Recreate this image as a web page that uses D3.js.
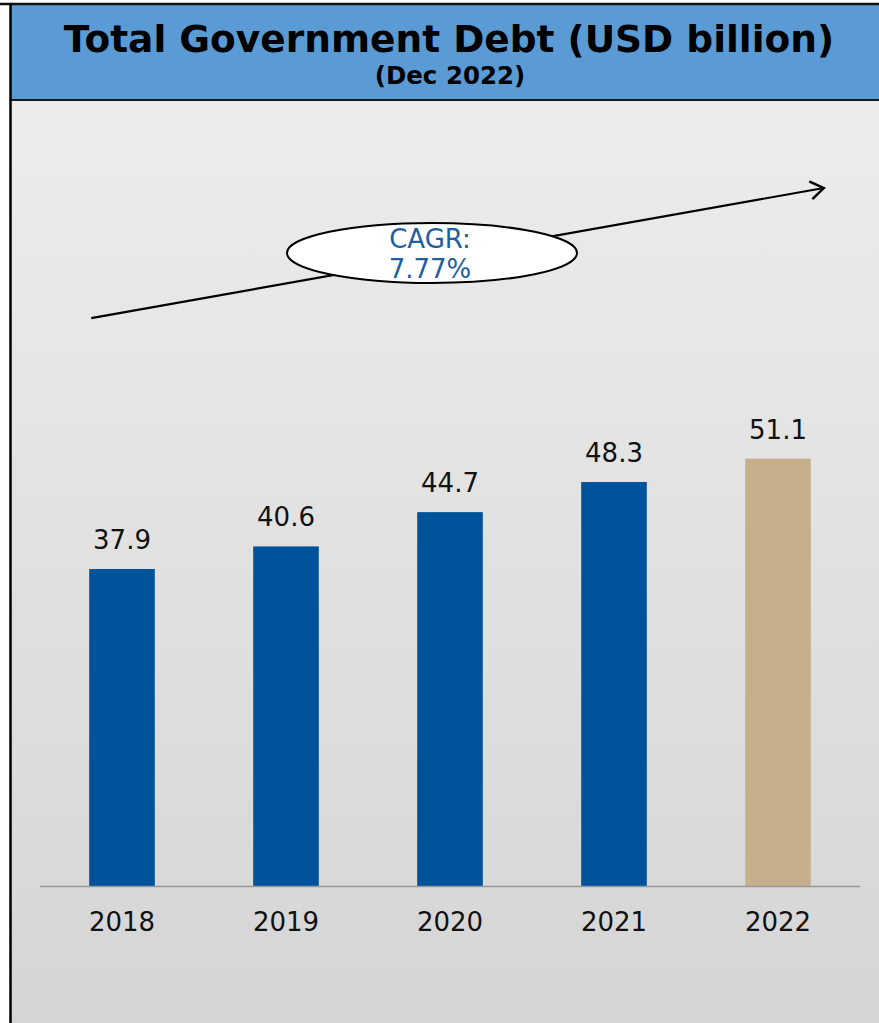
<!DOCTYPE html>
<meta charset="utf-8">
<style>
  body { margin: 0; background: #fff; }
  .title { font: bold 37.5px "DejaVu Sans", Verdana, sans-serif; fill: #000; }
  .subtitle { font: bold 24.5px "DejaVu Sans", Verdana, sans-serif; fill: #000; }
  .val, .tick text { font: 26px "DejaVu Sans", Verdana, sans-serif; fill: #111; }
  .cagr { font: 26px "DejaVu Sans", Verdana, sans-serif; fill: #1f5f9f; }
</style>
<svg width="879" height="1023"></svg>
<script src="https://d3js.org/d3.v7.min.js"></script>
<script>

var years = ["2018", "2019", "2020", "2021", "2022"];
var debt = [37.9, 40.6, 44.7, 48.3, 51.1];
var barColors = ["#00539a", "#00539a", "#00539a", "#00539a", "#c6b08b"];
var cagrLines = ["CAGR:", "7.77%"];

var svg = d3.select("svg"),
    width = +svg.attr("width"),
    height = +svg.attr("height");

// background gradient
var grad = svg.append("defs").append("linearGradient")
    .attr("id", "bg").attr("x1", 0).attr("y1", 0).attr("x2", 0).attr("y2", 1);
grad.append("stop").attr("offset", "0%").attr("stop-color", "#efefef");
grad.append("stop").attr("offset", "100%").attr("stop-color", "#d5d5d5");

svg.append("rect").attr("x", 11).attr("y", 4).attr("width", width).attr("height", height)
    .attr("fill", "url(#bg)");

// header
svg.append("rect").attr("x", 11).attr("y", 4).attr("width", width).attr("height", 96)
    .attr("fill", "#5b9bd5");
svg.append("line").attr("x1", 11).attr("x2", width).attr("y1", 100).attr("y2", 100)
    .attr("stroke", "#1a1a1a").attr("stroke-width", 2);
svg.append("line").attr("x1", 0).attr("x2", width).attr("y1", 4).attr("y2", 4)
    .attr("stroke", "#111").attr("stroke-width", 2.5);
svg.append("line").attr("x1", 10.5).attr("x2", 10.5).attr("y1", 3).attr("y2", height)
    .attr("stroke", "#000").attr("stroke-width", 2.5);

svg.append("text").attr("class", "title").attr("x", 449).attr("y", 52)
    .attr("text-anchor", "middle").text("Total Government Debt (USD billion)");
svg.append("text").attr("class", "subtitle").attr("x", 450).attr("y", 84)
    .attr("text-anchor", "middle").text("(Dec 2022)");

// scales
var x = d3.scaleBand().domain(years).range([40, 860]).paddingInner(0.6).paddingOuter(0.3);
var y = d3.scaleLinear().domain([0, 60]).range([886, 886 - 60 * 8.364]);

svg.selectAll(".bar")
    .data(debt)
    .enter().append("rect")
    .attr("class", "bar")
    .attr("x", function(d, i) { return x(years[i]); })
    .attr("width", x.bandwidth())
    .attr("y", function(d) { return y(d); })
    .attr("height", function(d) { return y(0) - y(d); })
    .attr("fill", function(d, i) { return barColors[i]; });

svg.selectAll(".val")
    .data(debt)
    .enter().append("text")
    .attr("class", "val")
    .attr("x", function(d, i) { return x(years[i]) + x.bandwidth() / 2; })
    .attr("y", function(d) { return y(d) - 20; })
    .attr("text-anchor", "middle")
    .text(function(d) { return d.toFixed(1); });

var axis = svg.append("g").attr("transform", "translate(0," + y(0) + ")")
    .call(d3.axisBottom(x).tickSize(0).tickPadding(25));
axis.select(".domain").attr("stroke", "#999").attr("stroke-width", 1.5)
    .attr("d", "M40,0.5H860");
axis.selectAll(".tick text").attr("dy", "0.75em").attr("font-size", null).attr("font-family", null);

// CAGR arrow
var x0 = x(years[0]) + 2, x1 = x(years[4]) + x.bandwidth() + 13;
var ya = y(67.9), yb = y(83.45);
var ang = Math.atan2(yb - ya, x1 - x0);
svg.append("line").attr("x1", x0).attr("y1", ya).attr("x2", x1).attr("y2", yb)
    .attr("stroke", "#000").attr("stroke-width", 2.2);
var head = 16, spread = 0.6;
svg.append("path")
    .attr("d", "M" + (x1 - head * Math.cos(ang - spread)) + "," + (yb - head * Math.sin(ang - spread)) +
        "L" + x1 + "," + yb +
        "L" + (x1 - head * Math.cos(ang + spread)) + "," + (yb - head * Math.sin(ang + spread)))
    .attr("fill", "none").attr("stroke", "#000").attr("stroke-width", 2.5);

var cx = 432, cy = 253;
svg.append("ellipse").attr("cx", cx).attr("cy", cy).attr("rx", 145).attr("ry", 30)
    .attr("fill", "#fff").attr("stroke", "#000").attr("stroke-width", 2);
svg.selectAll(".cagr")
    .data(cagrLines)
    .enter().append("text")
    .attr("class", "cagr")
    .attr("x", cx - 2)
    .attr("y", function(d, i) { return cy - 5 + i * 30; })
    .attr("text-anchor", "middle")
    .text(function(d) { return d; });

</script>
